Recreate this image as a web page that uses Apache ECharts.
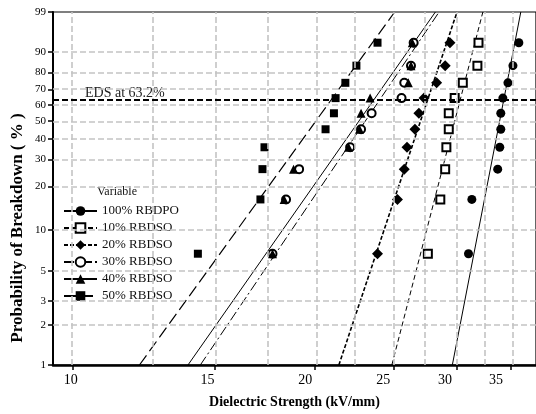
<!DOCTYPE html>
<html lang="en">
<head>
<meta charset="UTF-8">
<title>Weibull plot</title>
<script src="https://cdn.jsdelivr.net/npm/echarts@6.0.0/dist/echarts.min.js"></script>
<style>
  html, body { margin: 0; padding: 0; background: #fff; }
  #chart { width: 536px; height: 414px; }
</style>
</head>
<body>
<div id="chart"></div>
<script>
// failure probability of each specimen (median ranks, %)
var ranks = [6.7, 16.3, 26.0, 35.6, 45.2, 54.8, 64.4, 74.0, 83.7, 93.3];
var names = ['100% RBDPO', '10% RBDSO', '20% RBDSO', '30% RBDSO', '40% RBDSO', '50% RBDSO'];

// breakdown strength, kV/mm
var rbdpo100 = [31.0, 31.3, 33.7, 33.9, 34.0, 34.0, 34.2, 34.7, 35.2, 35.8];
var rbdso10 = [27.6, 28.6, 29.0, 29.1, 29.3, 29.3, 29.8, 30.5, 31.8, 31.9];
var rbdso20 = [23.9, 25.3, 25.8, 26.0, 26.6, 26.9, 27.3, 28.3, 29.0, 29.4];
var rbdso30 = [17.7, 18.4, 19.1, 22.1, 22.8, 23.5, 25.6, 25.8, 26.3, 26.5];
var rbdso40 = [17.7, 18.3, 18.8, 22.0, 22.7, 22.8, 23.4, 26.1, 26.3, 26.4];
var rbdso50 = [14.3, 17.1, 17.2, 17.3, 20.6, 21.1, 21.2, 21.8, 22.5, 23.9];

// fitted lines: strength at 1% and at 99%
var fitLow = [29.6, 24.9, 21.4, 14.4, 13.9, 12.1];
var fitHigh = [36.0, 32.3, 30.0, 28.5, 28.2, 25.1];

var xTicks = [10, 15, 20, 25, 30, 35];
var xMinor = [12.5, 17.5, 22.5, 27.5, 32.5];
var yTicks = [1, 2, 3, 5, 10, 20, 30, 40, 50, 60, 70, 80, 90, 99];

var allData = [rbdpo100, rbdso10, rbdso20, rbdso30, rbdso40, rbdso50];

// weibull paper: x is ln(E), y is ln(-ln(1-p))
function wb(p) { return Math.log(-Math.log(1 - p / 100)); }
function lx(v) { return Math.log(v); }

var serif = '"Liberation Serif", "Times New Roman", serif';
var symbols = ['circle', 'emptyRect', 'diamond', 'emptyCircle', 'triangle', 'rect'];
var sizes = [9, 8, 11, 8, 9, 8];
var dashes = ['solid', [5, 3], [4, 2], [10, 3, 2, 3], 'solid', [12, 5]];
var widths = [1, 1, 1.6, 1, 1, 1.2];
var labelShift = [2, 7, 10, 10, 12, 15];

var series = [];

// grid lines
series.push({
    type: 'line', data: [], silent: true, z: 1,
    markLine: {
        silent: true, symbol: ['none', 'none'], label: { show: false },
        animation: false,
        lineStyle: { color: '#c4c4c4', type: [6, 3], width: 1.6 },
        data: xTicks.concat(xMinor).map(function (v) { return { xAxis: lx(v) }; })
            .concat(yTicks.slice(1, -1).map(function (p) { return { yAxis: wb(p) }; }))
    }
});
// EDS line
series.push({
    type: 'line', data: [], silent: true, z: 2,
    markLine: {
        silent: true, symbol: ['none', 'none'], label: { show: false },
        animation: false,
        lineStyle: { color: '#000', type: [6, 3], width: 2 },
        data: [{ yAxis: wb(63.2) }]
    }
});

for (var i = 0; i < names.length; i++) {
    series.push({
        name: names[i],
        type: 'line',
        data: [[lx(fitLow[i]), wb(1)], [lx(fitHigh[i]), wb(99)]],
        symbol: symbols[i],
        symbolSize: sizes[i],
        showSymbol: false,
        lineStyle: { color: '#000', width: widths[i], type: dashes[i] },
        itemStyle: { color: '#000' },
        z: 3
    });
    series.push({
        name: names[i],
        type: 'scatter',
        data: allData[i].map(function (v, k) { return [lx(v), wb(ranks[k])]; }),
        symbol: symbols[i],
        symbolSize: sizes[i],
        itemStyle: { color: '#000', opacity: 1 },
        z: 4
    });
}

var xRich = {};
labelShift.forEach(function (d, k) {
    xRich['s' + k] = { padding: [0, 2 * d, 0, 0], fontFamily: serif, fontSize: 14, color: '#000' };
});

var chart = echarts.init(document.getElementById('chart'));
chart.setOption({
    animation: false,
    backgroundColor: '#fff',
    grid: { left: 53, right: -2, top: 12, bottom: 48, show: true, borderColor: '#000', borderWidth: 1.2 },
    xAxis: {
        type: 'value',
        min: lx(9.45), max: lx(37.6),
        axisLine: { onZero: false, lineStyle: { color: '#000', width: 2.5 } },
        axisTick: { customValues: xTicks.map(lx), length: 5, lineStyle: { color: '#000', width: 1.5 } },
        axisLabel: {
            customValues: xTicks.map(lx),
            margin: 8,
            formatter: function (v) {
                var t = Math.round(Math.exp(v));
                return '{s' + xTicks.indexOf(t) + '|' + t + '}';
            },
            rich: xRich
        },
        splitLine: { show: false },
        name: 'Dielectric Strength (kV/mm)',
        nameLocation: 'middle',
        nameGap: 30,
        nameTextStyle: { fontFamily: serif, fontWeight: 'bold', fontSize: 14, color: '#000' }
    },
    yAxis: {
        type: 'value',
        min: wb(1), max: wb(99),
        axisLine: { onZero: false, lineStyle: { color: '#000', width: 2 } },
        axisTick: { customValues: yTicks.map(wb), length: 5, lineStyle: { color: '#000', width: 1.5 } },
        axisLabel: {
            customValues: yTicks.map(wb),
            margin: 7,
            fontFamily: serif, fontSize: 11, color: '#000',
            formatter: function (v) { return String(Math.round(100 * (1 - Math.exp(-Math.exp(v))))); }
        },
        splitLine: { show: false }
    },
    legend: {
        data: names,
        orient: 'vertical',
        left: 58, top: 199,
        itemWidth: 33, itemHeight: 12, itemGap: 3,
        selectedMode: false,
        textStyle: { fontFamily: serif, fontSize: 13, color: '#111', lineHeight: 14 }
    },
    graphic: [
        { type: 'text', left: 97, top: 186, style: { text: 'Variable', font: '12px ' + serif, fill: '#111' } },
        { type: 'text', left: 85, top: 86, style: { text: 'EDS at 63.2%', font: '14px ' + serif, fill: '#222' } },
        {
            type: 'text', x: 18, y: 228, rotation: Math.PI / 2,
            style: { text: 'Probability of Breakdown ( % )', font: 'bold 17px ' + serif, fill: '#000',
                     textAlign: 'center', textVerticalAlign: 'middle' }
        }
    ],
    series: series
});
</script>
</body>
</html>
